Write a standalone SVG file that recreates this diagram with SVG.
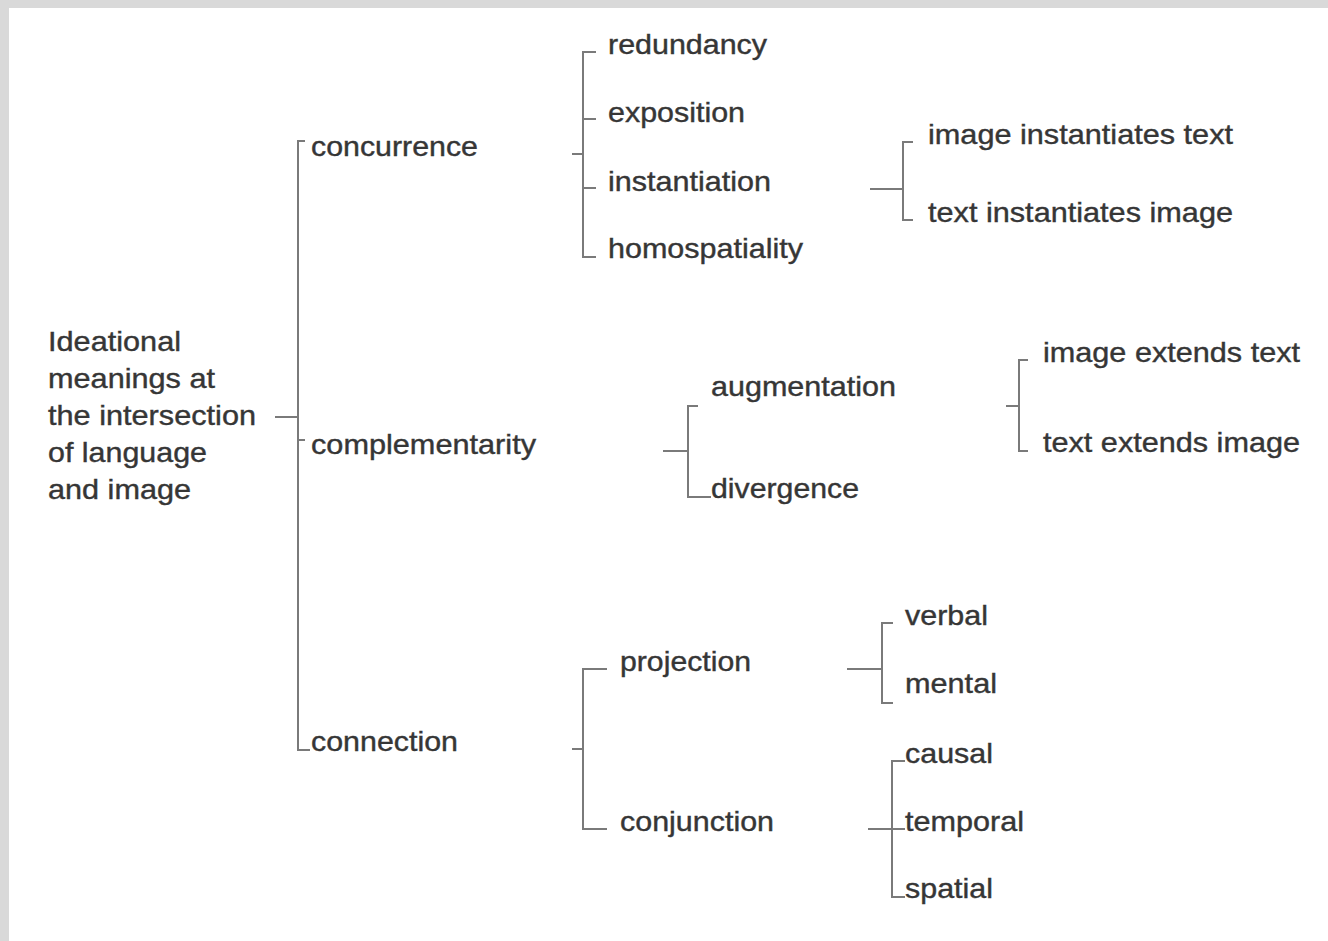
<svg xmlns="http://www.w3.org/2000/svg" width="1328" height="941" viewBox="0 0 1328 941">
<style>
.t{font-family:"Liberation Sans",Arial,sans-serif;font-size:28px;fill:#363636;stroke:#363636;stroke-width:0.4}
.c{fill:none;stroke:#7a7a7a;stroke-width:2}
</style>
<rect x="0" y="0" width="1328" height="941" fill="#d9d9d9"/>
<rect x="9" y="8" width="1319" height="933" fill="#ffffff"/>
<g id="connectors" class="c">
<path d="M275 417H298M305 141H298V750H310M298 440H305"/>
<path d="M572 154H583M596 52H583V257H596M583 119H596M583 188H596"/>
<path d="M870 189H903M913 142H903V220H913"/>
<path d="M663 451H688M698 406H688V497H711"/>
<path d="M1006 406H1019M1028 360H1019V451H1028"/>
<path d="M572 749H583M607 669H583V829H607"/>
<path d="M847 669H882M893 623H882V703H893"/>
<path d="M868 829H905M905 761H892V897H905"/>
</g>
<g id="root"><text class="t" x="48" y="351" textLength="133" lengthAdjust="spacingAndGlyphs">Ideational</text><text class="t" x="48" y="388" textLength="167" lengthAdjust="spacingAndGlyphs">meanings at</text><text class="t" x="48" y="425" textLength="208" lengthAdjust="spacingAndGlyphs">the intersection</text><text class="t" x="48" y="462" textLength="159" lengthAdjust="spacingAndGlyphs">of language</text><text class="t" x="48" y="499" textLength="143" lengthAdjust="spacingAndGlyphs">and image</text></g>
<g id="concurrence"><text class="t" x="311" y="156" textLength="167" lengthAdjust="spacingAndGlyphs">concurrence</text></g>
<g id="complementarity"><text class="t" x="311" y="454" textLength="225" lengthAdjust="spacingAndGlyphs">complementarity</text></g>
<g id="connection"><text class="t" x="311" y="751" textLength="147" lengthAdjust="spacingAndGlyphs">connection</text></g>
<g id="redundancy"><text class="t" x="608" y="54" textLength="159" lengthAdjust="spacingAndGlyphs">redundancy</text></g>
<g id="exposition"><text class="t" x="608" y="122" textLength="137" lengthAdjust="spacingAndGlyphs">exposition</text></g>
<g id="instantiation"><text class="t" x="608" y="191" textLength="163" lengthAdjust="spacingAndGlyphs">instantiation</text></g>
<g id="homospatiality"><text class="t" x="608" y="258" textLength="195" lengthAdjust="spacingAndGlyphs">homospatiality</text></g>
<g id="image-instantiates-text"><text class="t" x="928" y="144" textLength="305" lengthAdjust="spacingAndGlyphs">image instantiates text</text></g>
<g id="text-instantiates-image"><text class="t" x="928" y="222" textLength="305" lengthAdjust="spacingAndGlyphs">text instantiates image</text></g>
<g id="augmentation"><text class="t" x="711" y="396" textLength="185" lengthAdjust="spacingAndGlyphs">augmentation</text></g>
<g id="divergence"><text class="t" x="711" y="498" textLength="148" lengthAdjust="spacingAndGlyphs">divergence</text></g>
<g id="image-extends-text"><text class="t" x="1043" y="362" textLength="257" lengthAdjust="spacingAndGlyphs">image extends text</text></g>
<g id="text-extends-image"><text class="t" x="1043" y="452" textLength="257" lengthAdjust="spacingAndGlyphs">text extends image</text></g>
<g id="projection"><text class="t" x="620" y="671" textLength="131" lengthAdjust="spacingAndGlyphs">projection</text></g>
<g id="conjunction"><text class="t" x="620" y="831" textLength="154" lengthAdjust="spacingAndGlyphs">conjunction</text></g>
<g id="verbal"><text class="t" x="905" y="625" textLength="83" lengthAdjust="spacingAndGlyphs">verbal</text></g>
<g id="mental"><text class="t" x="905" y="693" textLength="92" lengthAdjust="spacingAndGlyphs">mental</text></g>
<g id="causal"><text class="t" x="905" y="763" textLength="88" lengthAdjust="spacingAndGlyphs">causal</text></g>
<g id="temporal"><text class="t" x="905" y="831" textLength="119" lengthAdjust="spacingAndGlyphs">temporal</text></g>
<g id="spatial"><text class="t" x="905" y="898" textLength="88" lengthAdjust="spacingAndGlyphs">spatial</text></g>
</svg>
